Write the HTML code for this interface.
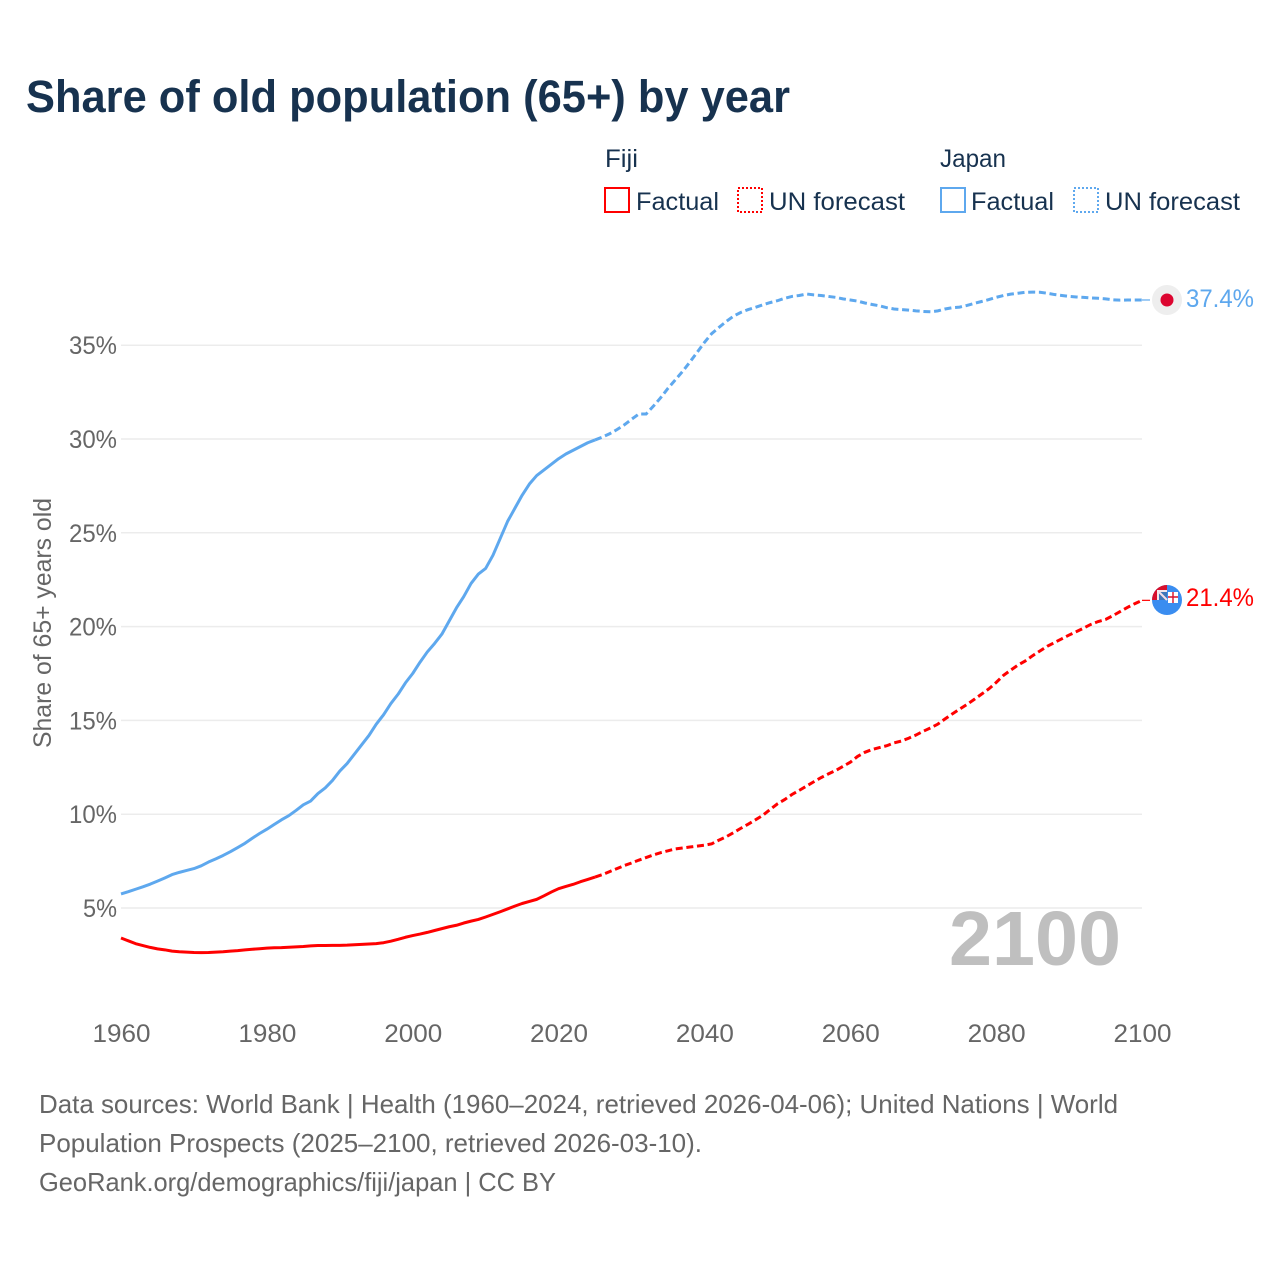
<!DOCTYPE html>
<html>
<head>
<meta charset="utf-8">
<title>Share of old population (65+) by year</title>
<style>
html,body{margin:0;padding:0;background:#fff}
svg{display:block}
text{font-family:"Liberation Sans",sans-serif}
</style>
</head>
<body>
<svg id="chart" width="1280" height="1280" viewBox="0 0 1280 1280" xmlns="http://www.w3.org/2000/svg">
<rect width="1280" height="1280" fill="#fff"/>
<text x="26" y="112" font-size="45" font-weight="700" fill="#17324f" textLength="764" lengthAdjust="spacingAndGlyphs">Share of old population (65+) by year</text>

<g font-size="25" fill="#17324f">
<text x="605" y="167" textLength="33" lengthAdjust="spacingAndGlyphs">Fiji</text>
<text x="940" y="167" textLength="66" lengthAdjust="spacingAndGlyphs">Japan</text>
<rect x="605" y="188" width="24" height="24" fill="none" stroke="#ff0000" stroke-width="2"/>
<text x="636" y="210" textLength="83" lengthAdjust="spacingAndGlyphs">Factual</text>
<rect x="738" y="188" width="24" height="24" fill="none" stroke="#ff0000" stroke-width="2" stroke-dasharray="2 2"/>
<text x="769" y="210" textLength="136" lengthAdjust="spacingAndGlyphs">UN forecast</text>
<rect x="941" y="188" width="24" height="24" fill="none" stroke="#5ea8ee" stroke-width="2"/>
<text x="971" y="210" textLength="83" lengthAdjust="spacingAndGlyphs">Factual</text>
<rect x="1074" y="188" width="24" height="24" fill="none" stroke="#5ea8ee" stroke-width="2" stroke-dasharray="2 2"/>
<text x="1105" y="210" textLength="135" lengthAdjust="spacingAndGlyphs">UN forecast</text>
</g>

<g id="grid"></g>
<g id="yticks"></g>
<g id="xticks"></g>

<text transform="translate(51,748) rotate(-90)" font-size="25" fill="#666" textLength="250" lengthAdjust="spacingAndGlyphs">Share of 65+ years old</text>

<text x="949" y="965" font-size="77" font-weight="700" fill="#bfbfbf" textLength="172" lengthAdjust="spacingAndGlyphs">2100</text>

<g id="lines"></g>

<g>
<circle cx="1167" cy="300" r="15" fill="#eeeeee"/>
<circle cx="1167" cy="300" r="6.5" fill="#dc0530"/>
</g>
<g>
<circle cx="1167" cy="600" r="15" fill="#3a8df0"/>
<path d="M1167 600 L1152 600 A15 15 0 0 1 1167 585 Z" fill="#d8102c"/>
<path d="M1167 600 L1157 600 L1157 590 L1167 590 Z" fill="#f2e6ea"/>
<rect x="1159" y="592" width="8" height="8" fill="#3f76b8"/>
<path d="M1159 592 L1167 600" stroke="#f4dfe6" stroke-width="2" fill="none"/>
<rect x="1168" y="592" width="10" height="11" fill="#fff"/>
<path d="M1173 592 V603 M1168 597 H1178" stroke="#d8102c" stroke-width="1.4"/>
</g>

<text x="1186" y="307" font-size="25" fill="#5ea8ee" textLength="68" lengthAdjust="spacingAndGlyphs">37.4%</text>
<text x="1186" y="606" font-size="25" fill="#ff0000" textLength="68" lengthAdjust="spacingAndGlyphs">21.4%</text>

<g font-size="26" fill="#666">
<text x="39" y="1113" textLength="1079" lengthAdjust="spacingAndGlyphs">Data sources: World Bank | Health (1960–2024, retrieved 2026-04-06); United Nations | World</text>
<text x="39" y="1152" textLength="663" lengthAdjust="spacingAndGlyphs">Population Prospects (2025–2100, retrieved 2026-03-10).</text>
<text x="39" y="1191" textLength="517" lengthAdjust="spacingAndGlyphs">GeoRank.org/demographics/fiji/japan | CC BY</text>
</g>
</svg>
<script>
const xTickYears = [1960,1980,2000,2020,2040,2060,2080,2100];
const yTickValues = [5,10,15,20,25,30,35];
const factualStartYear = 1960;
const japanFactual = [5.75,5.87,6.0,6.13,6.27,6.43,6.6,6.78,6.9,7.0,7.1,7.25,7.45,7.62,7.8,8.0,8.22,8.45,8.72,8.97,9.2,9.45,9.7,9.92,10.2,10.5,10.7,11.1,11.4,11.8,12.3,12.7,13.2,13.7,14.2,14.8,15.3,15.9,16.4,17.0,17.5,18.1,18.65,19.1,19.6,20.3,21.0,21.6,22.3,22.8,23.1,23.8,24.7,25.6,26.3,27.0,27.6,28.05,28.35,28.65,28.95,29.2,29.4,29.6,29.8];
const japanForecast = [29.95,30.1,30.28,30.5,30.75,31.05,31.33,31.33,31.75,32.2,32.7,33.15,33.6,34.1,34.62,35.15,35.62,35.95,36.27,36.55,36.75,36.9,37.02,37.15,37.27,37.37,37.5,37.6,37.65,37.73,37.68,37.65,37.6,37.55,37.47,37.41,37.35,37.25,37.17,37.1,37.0,36.93,36.9,36.87,36.83,36.8,36.78,36.83,36.93,37.0,37.03,37.12,37.23,37.33,37.43,37.55,37.65,37.72,37.77,37.82,37.83,37.82,37.77,37.7,37.65,37.6,37.57,37.55,37.52,37.5,37.47,37.42,37.4,37.41,37.41,37.41];
const fijiFactual = [3.4,3.25,3.1,3.0,2.9,2.82,2.77,2.7,2.67,2.65,2.63,2.62,2.63,2.65,2.67,2.7,2.73,2.77,2.8,2.83,2.86,2.88,2.89,2.91,2.93,2.95,2.98,3.0,3.0,3.01,3.01,3.02,3.04,3.06,3.08,3.1,3.15,3.23,3.33,3.44,3.53,3.61,3.7,3.8,3.9,4.0,4.08,4.2,4.3,4.39,4.52,4.66,4.8,4.95,5.1,5.24,5.35,5.46,5.65,5.85,6.03,6.15,6.26,6.4,6.52];
const fijiForecast = [6.65,6.78,6.94,7.1,7.26,7.4,7.55,7.69,7.83,7.95,8.05,8.15,8.2,8.25,8.3,8.35,8.42,8.62,8.8,9.02,9.25,9.47,9.7,9.94,10.25,10.55,10.78,11.05,11.27,11.5,11.73,11.95,12.15,12.33,12.55,12.77,13.08,13.3,13.45,13.55,13.65,13.8,13.9,14.05,14.22,14.42,14.6,14.8,15.08,15.35,15.6,15.85,16.12,16.4,16.68,17.02,17.4,17.68,17.95,18.17,18.45,18.7,18.95,19.15,19.35,19.55,19.73,19.92,20.12,20.27,20.38,20.58,20.8,21.02,21.22,21.4];

const NS = 'http://www.w3.org/2000/svg';
function xScale(year){ return 121 + (year - 1960) * (1142 - 121) / 140; }
function yScale(v){ return 1001.8 - v * 18.76; }
function pathFrom(values, startYear){
  return values.map(function(v,i){
    return (i ? 'L' : 'M') + xScale(startYear + i).toFixed(2) + ' ' + yScale(v).toFixed(2);
  }).join(' ');
}
const grid = document.getElementById('grid');
const yticks = document.getElementById('yticks');
const xticks = document.getElementById('xticks');
const lines = document.getElementById('lines');

yTickValues.forEach(function(v){
  const gl = document.createElementNS(NS,'line');
  
  
  gl.setAttribute('x1', 121);
  gl.setAttribute('x2', 1142);
  gl.setAttribute('y1', yScale(v));
  gl.setAttribute('y2', yScale(v));
  gl.setAttribute('stroke', '#ececec');
  gl.setAttribute('stroke-width', '1.5');
  grid.appendChild(gl);
  const t = document.createElementNS(NS,'text');
  
  
  t.setAttribute('x', 117);
  t.setAttribute('y', yScale(v) + 9);
  t.setAttribute('text-anchor', 'end');
  t.setAttribute('font-size', '25');
  t.setAttribute('fill', '#666');
  t.setAttribute('textLength', v < 10 ? '34' : '48');
  t.setAttribute('lengthAdjust', 'spacingAndGlyphs');
  t.textContent = v + '%';
  yticks.appendChild(t);
});

xTickYears.forEach(function(y){
  const t = document.createElementNS(NS,'text');
  
  
  t.setAttribute('x', xScale(y) + 0.5);
  t.setAttribute('y', 1042);
  t.setAttribute('text-anchor', 'middle');
  t.setAttribute('font-size', '25');
  t.setAttribute('fill', '#666');
  t.setAttribute('textLength', '58');
  t.setAttribute('lengthAdjust', 'spacingAndGlyphs');
  t.textContent = y;
  xticks.appendChild(t);
});

function drawSeries(name, color, factual, forecast){
  const forecastStart = factualStartYear + factual.length;
  const solid = document.createElementNS(NS,'path');
  
  
  solid.setAttribute('d', pathFrom(factual.concat(forecast.slice(0,1)), factualStartYear));
  solid.setAttribute('fill', 'none');
  solid.setAttribute('stroke', color);
  solid.setAttribute('stroke-width', '3');
  solid.setAttribute('stroke-linejoin', 'round');
  lines.appendChild(solid);
  const dashed = document.createElementNS(NS,'path');
  
  
  dashed.setAttribute('d', pathFrom(forecast, forecastStart));
  dashed.setAttribute('fill', 'none');
  dashed.setAttribute('stroke', color);
  dashed.setAttribute('stroke-width', '3');
  dashed.setAttribute('stroke-dasharray', '7 3.7');
  lines.appendChild(dashed);
  const lastY = yScale(forecast[forecast.length - 1]);
  const conn = document.createElementNS(NS,'line');
  
  
  conn.setAttribute('x1', xScale(2100));
  conn.setAttribute('x2', xScale(2100) + 8);
  conn.setAttribute('y1', lastY);
  conn.setAttribute('y2', lastY);
  conn.setAttribute('stroke', color);
  conn.setAttribute('stroke-width', '1.2');
  lines.appendChild(conn);
}
drawSeries('japan', '#5ea8ee', japanFactual, japanForecast);
drawSeries('fiji', '#ff0000', fijiFactual, fijiForecast);
</script>
</body>
</html>
